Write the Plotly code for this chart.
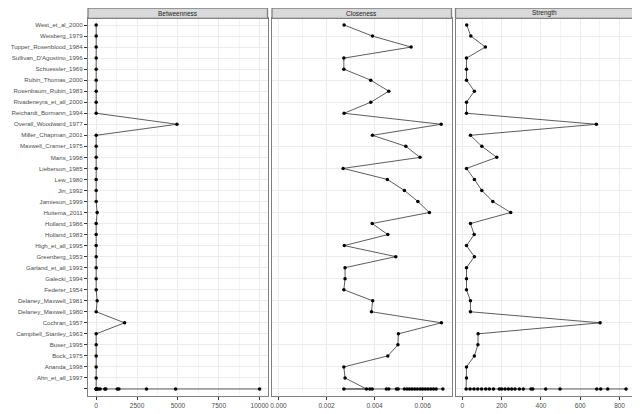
import plotly.graph_objects as go

# studies, top to bottom as they appear on the y axis
studies = [
    "West_et_al_2000", "Weisberg_1979", "Tupper_Rosenblood_1984",
    "Sullivan_D'Agostino_1996", "Schuessler_1969", "Rubin_Thomas_2000",
    "Rosenbaum_Rubin_1983", "Rivadeneyra_et_all_2000", "Reichardt_Bormann_1994",
    "Overall_Woodward_1977", "Miller_Chapman_2001", "Maxwell_Cramer_1975",
    "Maris_1998", "Lieberson_1985", "Lew_1980", "Jin_1992", "Jamieson_1999",
    "Huitema_2011", "Holland_1986", "Holland_1983", "High_et_all_1995",
    "Greenberg_1953", "Garland_et_all_1993", "Galecki_1994", "Federer_1954",
    "Delaney_Maxwell_1981", "Delaney_Maxwell_1980", "Cochran_1957",
    "Campbell_Stanley_1963", "Buser_1995", "Bock_1975", "Ananda_1998",
    "Ahn_et_all_1997",
]

betweenness = [0, 0, 0, 0, 0, 0, 0, 0, 0, 4940, 0, 0, 0, 0, 0, 0, 0,
               60, 0, 0, 0, 0, 0, 0, 0, 60, 0, 1740, 0, 0, 0, 0, 0]
closeness = [0.00273, 0.00391, 0.00552, 0.00272, 0.00272, 0.00384, 0.00459,
             0.00384, 0.00273, 0.00677, 0.00391, 0.00530, 0.00589, 0.00269,
             0.00453, 0.00524, 0.00580, 0.00628, 0.00390, 0.00455, 0.00274,
             0.00488, 0.00277, 0.00277, 0.00272, 0.00392, 0.00387, 0.00678,
             0.00499, 0.00497, 0.00455, 0.00272, 0.00277]
strength = [22, 43, 117, 21, 21, 21, 61, 21, 21, 682, 41, 99, 175, 21, 61,
            99, 155, 246, 41, 60, 21, 61, 21, 21, 21, 41, 41, 701, 80, 79,
            61, 21, 21]

# unlabelled nodes, all drawn on the blank bottom row
other_betweenness = [0, 0, 0, 40, 120, 240, 530, 590, 1290, 1390, 3080, 4860, 10000]
other_closeness = [0.00366, 0.00272, 0.00380, 0.00390, 0.00449, 0.00459, 0.00491,
                   0.00498, 0.00524, 0.00535, 0.00545, 0.00556, 0.00567, 0.00578,
                   0.00590, 0.00600, 0.00611, 0.00622, 0.00634, 0.00645, 0.00656,
                   0.00684]
other_strength = [19, 39, 59, 78, 98, 119, 137, 158, 188, 200, 217, 234, 251, 268,
                  290, 310, 349, 358, 424, 497, 684, 704, 740, 833]

# the page puts the figure 8px in from the top-left corner, so it is sized 632x406
W, H = 632, 406
panels = [
    ("Betweenness", betweenness, other_betweenness, [-500, 10480], 2500, 1250, "d", [80, 259.5]),
    ("Closeness", closeness, other_closeness, [-0.00027, 0.0072], 0.002, 0.001, ".3f", [264, 443.5]),
    ("Strength", strength, other_strength, [-35, 875], 200, 100, "d", [447.5, 626.3]),
]

blank = " "
cat_order = [blank] + studies[::-1]

FONT = "Liberation Sans, Arial, sans-serif"
BORDER = "#808080"
ydom = [(H - 387.6) / H, (H - 10.4) / H]
strip_top = 1.0

fig = go.Figure()
layout = {}
for i, (name, vals, extra, xr, dt, mdt, fmt, xpx) in enumerate(panels):
    sfx = "" if i == 0 else str(i + 1)
    xdom = [xpx[0] / W, xpx[1] / W]
    fig.add_trace(go.Scatter(
        x=vals + extra,
        y=studies + [blank] * len(extra),
        mode="lines+markers",
        line=dict(color="#333333", width=0.8),
        marker=dict(color="black", size=3.5),
        xaxis="x" + sfx, yaxis="y" + sfx,
        showlegend=False,
    ))
    layout["xaxis" + sfx] = dict(
        domain=xdom, range=xr, anchor="y" + sfx,
        tick0=0, dtick=dt, tickformat=fmt,
        showgrid=True, gridcolor="#EBEBEB", gridwidth=1,
        minor=dict(tick0=0, dtick=mdt, showgrid=True, gridcolor="#F4F4F4", gridwidth=0.6),
        zeroline=False, showline=True, mirror=True, linecolor=BORDER, linewidth=1.3,
        ticks="outside", ticklen=3, tickcolor="#333333", tickwidth=0.8,
        tickfont=dict(size=6.5, color="#4D4D4D", family=FONT),
        automargin=False,
    )
    layout["yaxis" + sfx] = dict(
        domain=ydom, anchor="x" + sfx,
        type="category", categoryorder="array", categoryarray=cat_order,
        range=[-0.6, len(cat_order) - 0.4],
        showgrid=True, gridcolor="#EBEBEB", gridwidth=1,
        zeroline=False, showline=True, mirror=True, linecolor=BORDER, linewidth=1.3,
        showticklabels=(i == 0), ticks="outside" if i == 0 else "",
        ticklen=3, tickcolor="#333333", tickwidth=0.8,
        tickfont=dict(size=6.1, color="#4D4D4D", family=FONT),
        automargin=False,
    )
    if i > 0:
        layout["yaxis" + sfx]["matches"] = "y"

    # facet strip
    fig.add_shape(type="rect", xref="paper", yref="paper",
                  x0=xdom[0], x1=xdom[1], y0=ydom[1], y1=strip_top,
                  fillcolor="#D9D9D9", line=dict(color=BORDER, width=1.3), layer="above")
    fig.add_annotation(text=name, xref="paper", yref="paper",
                       x=(xdom[0] + xdom[1]) / 2, y=(ydom[1] + strip_top) / 2,
                       xanchor="center", yanchor="middle",
                       showarrow=False, font=dict(size=6.5, color="#1A1A1A", family=FONT))

fig.update_layout(
    **layout,
    width=W, height=H,
    margin=dict(l=0, r=0, t=0, b=0),
    paper_bgcolor="white", plot_bgcolor="white",
    font=dict(family=FONT),
)

fig.write_html("out.html")
